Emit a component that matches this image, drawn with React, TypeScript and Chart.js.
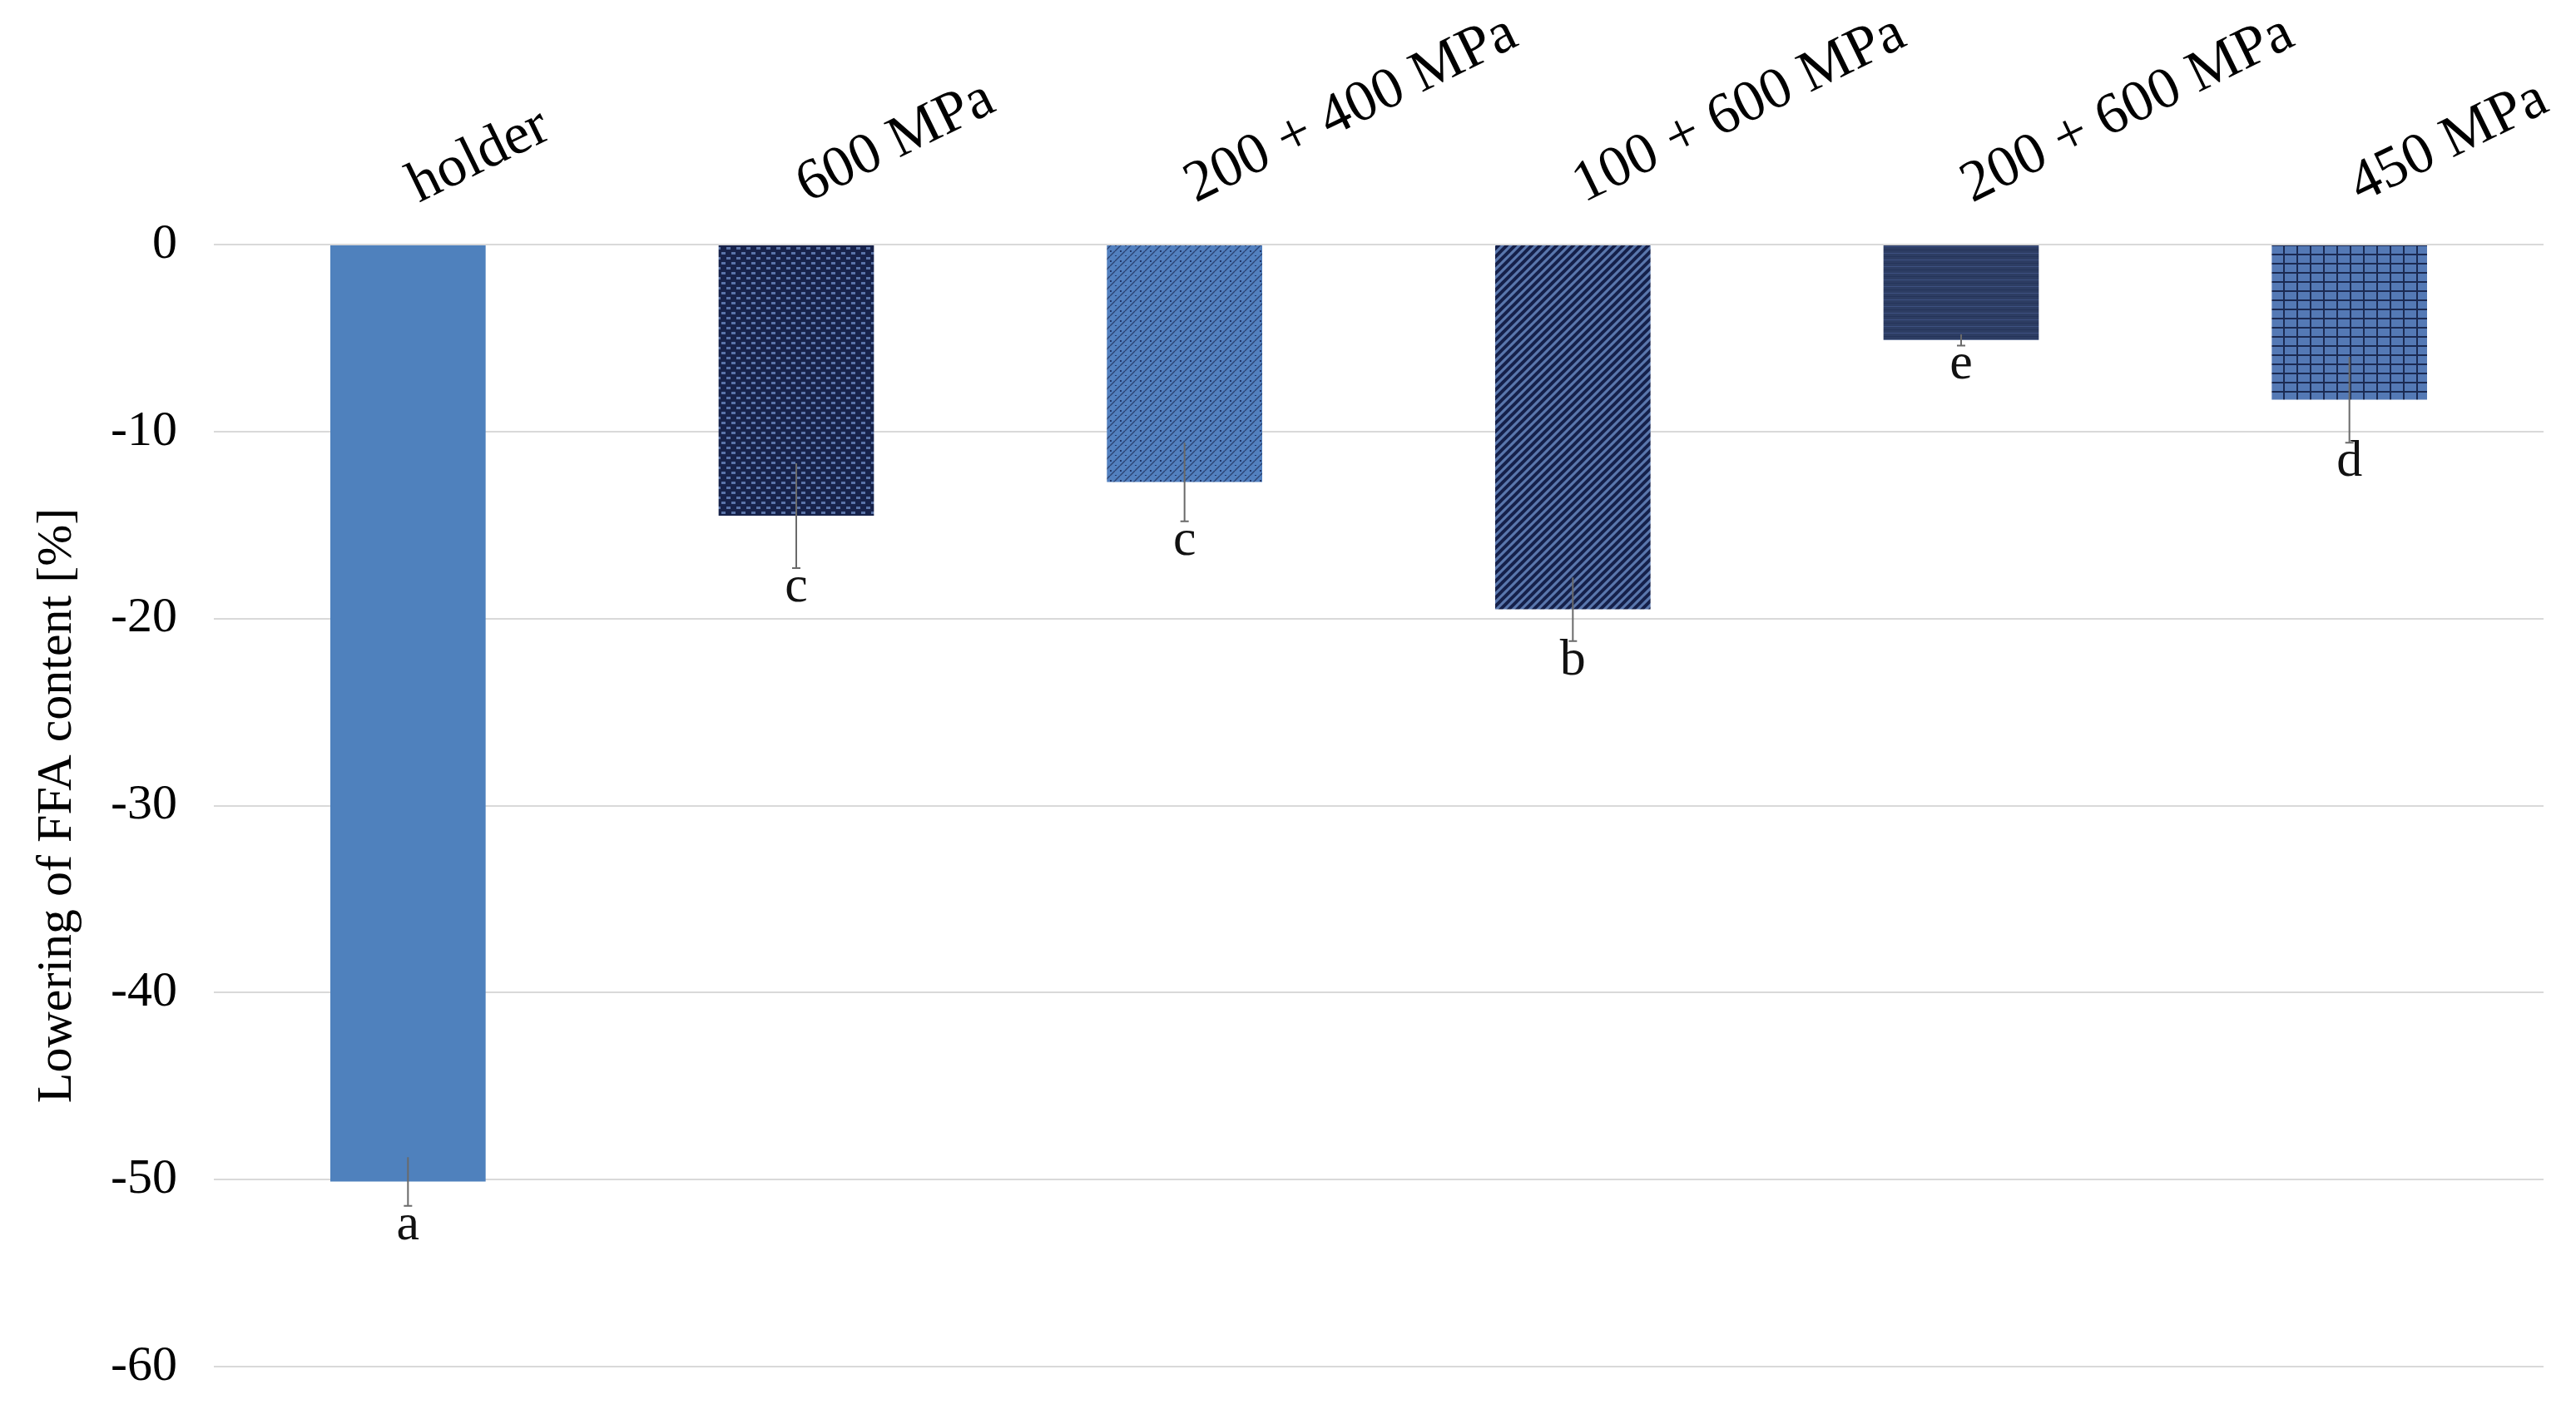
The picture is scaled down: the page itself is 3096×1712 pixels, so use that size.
import React, { useEffect, useRef } from 'react';
import { Chart, registerables } from 'chart.js';

Chart.register(...registerables);

const categories = ['holder', '600 MPa', '200 + 400 MPa', '100 + 600 MPa', '200 + 600 MPa', '450 MPa'];
const values = [-50.1, -14.5, -12.7, -19.5, -5.1, -8.3];
const errors = [1.3, 2.8, 2.1, 1.7, 0.3, 2.3];
const letters = ['a', 'c', 'c', 'b', 'e', 'd'];
const patternKinds = ['solid', 'checker', 'weave', 'diagonal', 'horizontal', 'grid'];

const FONT = '"Liberation Serif", "Times New Roman", serif';

function makeTile(w: number, h: number, draw: (c: CanvasRenderingContext2D) => void) {
  const t = document.createElement('canvas');
  t.width = w;
  t.height = h;
  const c = t.getContext('2d') as CanvasRenderingContext2D;
  draw(c);
  return t;
}

function makeFill(ctx: CanvasRenderingContext2D, kind: string): any {
  let tile: HTMLCanvasElement | null = null;
  if (kind === 'checker') {
    tile = makeTile(12, 12, (c) => {
      c.fillStyle = '#17224a';
      c.fillRect(0, 0, 12, 12);
      c.fillStyle = '#5a73a8';
      c.fillRect(1, 1, 5, 3);
      c.fillRect(7, 7, 5, 3);
    });
  } else if (kind === 'weave') {
    tile = makeTile(12, 12, (c) => {
      c.fillStyle = '#5280bf';
      c.fillRect(0, 0, 12, 12);
      c.strokeStyle = '#2a4272';
      c.lineWidth = 1.4;
      c.beginPath();
      c.moveTo(0, 6); c.lineTo(6, 0);
      c.moveTo(6, 12); c.lineTo(12, 6);
      c.stroke();
      c.fillStyle = '#22386a';
      c.fillRect(6, 5, 2, 2);
      c.fillRect(0, 11, 2, 1);
    });
  } else if (kind === 'diagonal') {
    tile = makeTile(10, 10, (c) => {
      c.fillStyle = '#5a77ad';
      c.fillRect(0, 0, 10, 10);
      c.strokeStyle = '#15204a';
      c.lineWidth = 4;
      c.beginPath();
      c.moveTo(-5, 15); c.lineTo(15, -5);
      c.moveTo(-5, 5); c.lineTo(5, -5);
      c.moveTo(5, 15); c.lineTo(15, 5);
      c.stroke();
    });
  } else if (kind === 'horizontal') {
    tile = makeTile(4, 8, (c) => {
      c.fillStyle = '#2d3d63';
      c.fillRect(0, 0, 4, 8);
      c.fillStyle = '#3d5081';
      c.fillRect(0, 0, 4, 1);
      c.fillStyle = '#25345a';
      c.fillRect(0, 4, 4, 1);
    });
  } else if (kind === 'grid') {
    tile = makeTile(16, 11, (c) => {
      c.fillStyle = '#5479b5';
      c.fillRect(0, 0, 16, 11);
      c.fillStyle = '#1b2a52';
      c.fillRect(0, 0, 2, 11);
      c.fillRect(0, 0, 16, 2);
    });
  }
  if (!tile) return '#4F81BD';
  return ctx.createPattern(tile, 'repeat');
}

const errorBarPlugin = {
  id: 'errorBarsLetters',
  afterDatasetsDraw(chart: any) {
    const ctx = chart.ctx;
    const meta = chart.getDatasetMeta(0);
    const y = chart.scales.y;
    ctx.save();
    meta.data.forEach((bar: any, i: number) => {
      const x = bar.x;
      const top = y.getPixelForValue(values[i] + errors[i]);
      const bot = y.getPixelForValue(values[i] - errors[i]);
      ctx.strokeStyle = '#6a6a6a';
      ctx.lineWidth = 2;
      ctx.beginPath();
      ctx.moveTo(x, top);
      ctx.lineTo(x, bot);
      ctx.moveTo(x - 5, bot);
      ctx.lineTo(x + 5, bot);
      ctx.stroke();
      ctx.fillStyle = '#111';
      ctx.font = '62px ' + FONT;
      ctx.textAlign = 'center';
      ctx.textBaseline = 'alphabetic';
      ctx.fillText(letters[i], x, bot + 40);
    });
    ctx.restore();
  },
};

export default function App() {
  const ref = useRef<HTMLCanvasElement | null>(null);
  useEffect(() => {
    const canvas = ref.current;
    if (!canvas) return;
    const ctx = canvas.getContext('2d') as CanvasRenderingContext2D;
    const fills = patternKinds.map((k) => makeFill(ctx, k));
    const chart = new Chart(canvas, {
      type: 'bar',
      data: {
        labels: categories,
        datasets: [
          {
            data: values,
            backgroundColor: fills,
            borderWidth: 0,
            barPercentage: 0.4,
            categoryPercentage: 1.0,
          },
        ],
      },
      options: {
        responsive: false,
        animation: false,
        devicePixelRatio: 1,
        layout: { padding: { left: 0, top: 0, right: 31, bottom: 61 } },
        plugins: { legend: { display: false }, tooltip: { enabled: false } },
        scales: {
          x: {
            type: 'category',
            position: 'top',
            grid: { display: false, drawTicks: false },
            border: { display: false },
            ticks: {
              font: { family: FONT, size: 70 },
              color: '#000',
              minRotation: 26,
              maxRotation: 26,
              autoSkip: false,
              padding: 29,
              labelOffset: 42,
            },
            afterFit: (s: any) => {
              s.height = 286;
              s.paddingLeft = 0;
              s.paddingRight = 0;
            },
          },
          y: {
            min: -60,
            max: 0,
            ticks: {
              stepSize: 10,
              font: { family: FONT, size: 60 },
              color: '#000',
              padding: 44,
            },
            grid: { color: '#D9D9D9', lineWidth: 2, drawTicks: false },
            border: { display: false },
            title: {
              display: true,
              text: 'Lowering of FFA content [%]',
              font: { family: FONT, size: 60 },
              color: '#000',
              padding: { top: 25, bottom: 0 },
            },
            afterFit: (s: any) => {
              s.width = 249;
              s.paddingTop = 0;
              s.paddingBottom = 0;
            },
          },
        },
      },
      plugins: [errorBarPlugin],
    });
    return () => chart.destroy();
  }, []);
  return (
    <div style={{ width: 3080, height: 1696 }}>
      <canvas ref={ref} width={3080} height={1696} style={{ display: 'block', width: 3080, height: 1696 }} />
    </div>
  );
}
